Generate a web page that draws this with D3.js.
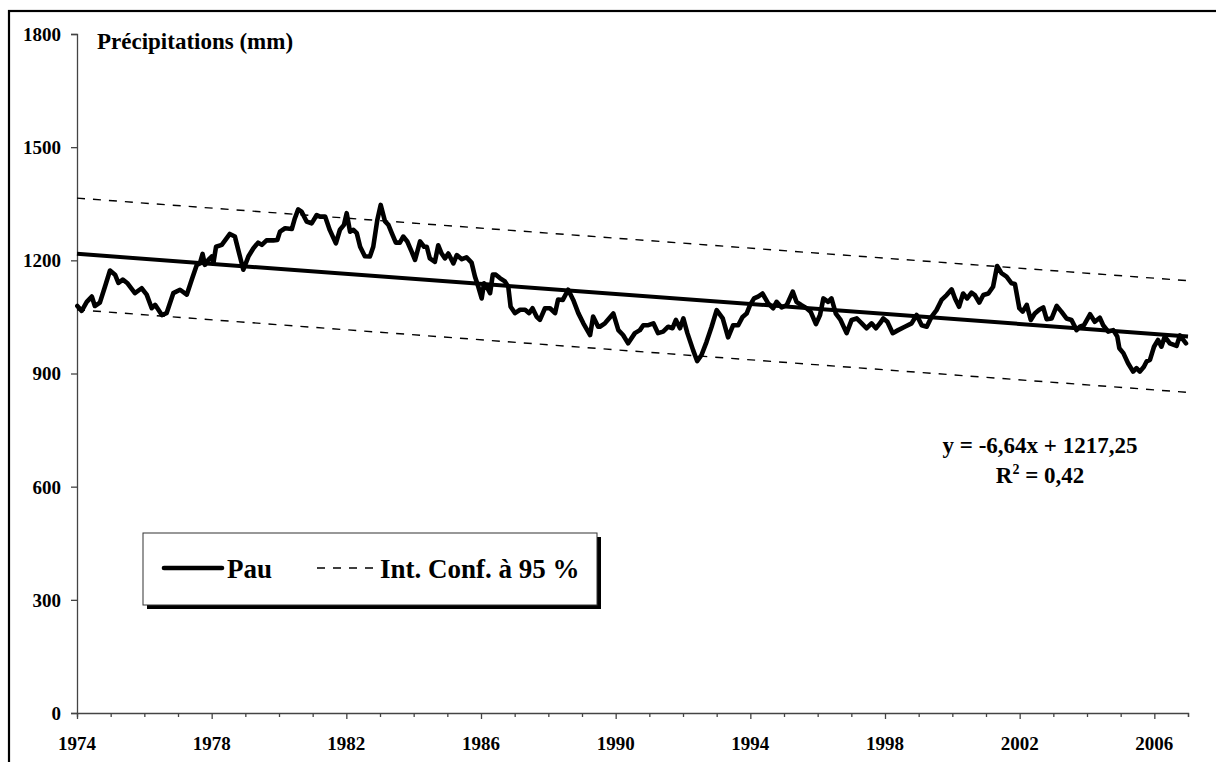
<!DOCTYPE html>
<html>
<head>
<meta charset="utf-8">
<script src="https://cdn.jsdelivr.net/npm/d3@7"></script>
<style>
  html, body { margin: 0; padding: 0; background: #fff; }
  svg { display: block; }
  text { font-family: "Liberation Serif", "Times New Roman", serif; font-weight: bold; fill: #000; }
</style>
</head>
<body>
<svg id="chart" width="1216" height="762"></svg>
<script>
// Pau: 12-month running precipitation totals (mm), sampled along the record
const obsYears = [
  1974.01, 1974.14, 1974.29, 1974.44, 1974.53, 1974.68, 1974.83, 1974.98, 1975.13, 1975.23,
  1975.36, 1975.49, 1975.72, 1975.92, 1976.07, 1976.22, 1976.32, 1976.52, 1976.66, 1976.86,
  1977.06, 1977.26, 1977.41, 1977.56, 1977.65, 1977.73, 1977.80, 1977.90, 1978.00, 1978.05,
  1978.13, 1978.30, 1978.54, 1978.69, 1978.84, 1978.94, 1979.09, 1979.24, 1979.38, 1979.49,
  1979.63, 1979.83, 1979.95, 1980.03, 1980.18, 1980.38, 1980.47, 1980.57, 1980.67, 1980.82,
  1980.97, 1981.12, 1981.22, 1981.37, 1981.51, 1981.69, 1981.81, 1981.93, 1982.01, 1982.11,
  1982.21, 1982.31, 1982.41, 1982.55, 1982.70, 1982.80, 1982.92, 1983.02, 1983.15, 1983.25,
  1983.35, 1983.47, 1983.59, 1983.69, 1983.81, 1983.94, 1984.04, 1984.19, 1984.31, 1984.39,
  1984.48, 1984.63, 1984.73, 1984.83, 1984.93, 1985.03, 1985.18, 1985.28, 1985.43, 1985.57,
  1985.72, 1985.82, 1985.92, 1986.02, 1986.09, 1986.17, 1986.27, 1986.35, 1986.44, 1986.56,
  1986.71, 1986.81, 1986.88, 1987.01, 1987.16, 1987.31, 1987.43, 1987.53, 1987.65, 1987.75,
  1987.90, 1988.05, 1988.20, 1988.29, 1988.43, 1988.59, 1988.74, 1988.89, 1989.04, 1989.24,
  1989.33, 1989.48, 1989.53, 1989.68, 1989.93, 1990.08, 1990.22, 1990.37, 1990.57, 1990.72,
  1990.82, 1990.97, 1991.12, 1991.26, 1991.41, 1991.56, 1991.69, 1991.79, 1991.91, 1992.01,
  1992.13, 1992.30, 1992.42, 1992.55, 1992.70, 1992.85, 1993.00, 1993.18, 1993.34, 1993.49,
  1993.64, 1993.77, 1993.89, 1993.99, 1994.11, 1994.23, 1994.36, 1994.53, 1994.68, 1994.78,
  1994.93, 1995.08, 1995.26, 1995.37, 1995.52, 1995.67, 1995.79, 1995.95, 1996.07, 1996.17,
  1996.31, 1996.41, 1996.54, 1996.68, 1996.86, 1997.01, 1997.16, 1997.31, 1997.45, 1997.60,
  1997.73, 1997.85, 1997.95, 1998.07, 1998.23, 1998.39, 1998.59, 1998.79, 1998.94, 1999.09,
  1999.24, 1999.38, 1999.53, 1999.68, 1999.83, 1999.98, 2000.08, 2000.20, 2000.32, 2000.44,
  2000.57, 2000.67, 2000.80, 2000.92, 2001.07, 2001.21, 2001.33, 2001.46, 2001.61, 2001.76,
  2001.86, 2001.99, 2002.09, 2002.21, 2002.33, 2002.45, 2002.58, 2002.70, 2002.80, 2002.95,
  2003.10, 2003.24, 2003.39, 2003.54, 2003.69, 2003.79, 2003.91, 2004.09, 2004.23, 2004.38,
  2004.48, 2004.63, 2004.78, 2004.90, 2004.96, 2005.08, 2005.22, 2005.37, 2005.47, 2005.57,
  2005.69, 2005.77, 2005.87, 2005.99, 2006.11, 2006.21, 2006.31, 2006.46, 2006.66, 2006.76,
  2006.86, 2006.94
];
const obsPrecip = [
  1079, 1066, 1090, 1104, 1079, 1088, 1130, 1173, 1162, 1140,
  1149, 1140, 1113, 1126, 1109, 1073, 1082, 1055, 1060, 1113,
  1122, 1109, 1149, 1188, 1192, 1217, 1188, 1201, 1210, 1192,
  1236, 1241, 1270, 1263, 1210, 1175, 1210, 1232, 1247, 1241,
  1253, 1253, 1254, 1276, 1285, 1283, 1311, 1335, 1329, 1303,
  1298, 1320, 1316, 1316, 1280, 1245, 1281, 1294, 1325, 1276,
  1281, 1272, 1236, 1211, 1210, 1236, 1307, 1347, 1303, 1294,
  1272, 1247, 1247, 1263, 1250, 1223, 1201, 1250, 1236, 1236,
  1205, 1196, 1240, 1218, 1205, 1218, 1192, 1214, 1203, 1208,
  1194, 1157, 1130, 1099, 1139, 1130, 1113, 1162, 1162, 1153,
  1144, 1130, 1077, 1060, 1069, 1069, 1060, 1073, 1051, 1042,
  1073, 1073, 1060, 1096, 1095, 1122, 1095, 1060, 1033, 1002,
  1051, 1024, 1024, 1033, 1059, 1015, 1002, 980, 1007, 1015,
  1028, 1028, 1033, 1007, 1011, 1024, 1020, 1042, 1020, 1046,
  1007, 962, 933, 949, 984, 1024, 1068, 1046, 996, 1028,
  1028, 1050, 1059, 1081, 1099, 1104, 1112, 1086, 1073, 1090,
  1075, 1081, 1117, 1090, 1081, 1073, 1064, 1031, 1055, 1099,
  1090, 1099, 1059, 1042, 1007, 1042, 1046, 1033, 1020, 1033,
  1020, 1033, 1046, 1037, 1007, 1015, 1024, 1033, 1055, 1028,
  1024, 1050, 1068, 1095, 1108, 1123, 1099, 1077, 1112, 1099,
  1114, 1108, 1088, 1108, 1112, 1130, 1185, 1166, 1157, 1139,
  1137, 1073, 1064, 1082, 1042, 1059, 1069, 1075, 1044, 1046,
  1079, 1064, 1046, 1042, 1015, 1024, 1028, 1057, 1037, 1048,
  1028, 1011, 1015, 998, 967, 954, 927, 905, 914, 905,
  918, 932, 936, 971, 989, 971, 998, 980, 973, 1001,
  989, 980
];

// Linear trend y = a*x + b, x counted in years from 1974
const trendSlope = -6.64;
const trendIntercept = 1217.25;
const trendR2 = 0.42;

// 95 % confidence band end values (mm) at the span limits
const bandYears = [1974, 2007];
const bandUpper = [1365, 1146];
const bandLower = [1069, 850];

const yTickValues = [0, 300, 600, 900, 1200, 1500, 1800];
const xLabelYears = [1974, 1978, 1982, 1986, 1990, 1994, 1998, 2002, 2006];

const seriesName = "Pau";
const bandName = "Int. Conf. à 95 %";
const yTitle = "Précipitations (mm)";

const svg = d3.select("#chart");

// outer frame
svg.append("rect")
  .attr("x", 9).attr("y", 11)
  .attr("width", 1230).attr("height", 780)
  .attr("fill", "#fff").attr("stroke", "#000").attr("stroke-width", 2.2);

const x = d3.scaleLinear().domain([1974, 2007]).range([77, 1188]);
const y = d3.scaleLinear().domain([0, 1800]).range([713, 34]);

// y axis
const yAxis = d3.axisLeft(y).tickValues(yTickValues).tickSize(6).tickPadding(10).tickFormat(d3.format("d"));
const gy = svg.append("g").attr("transform", `translate(${x(1974)},0)`).call(yAxis);
gy.select(".domain").attr("stroke", "#444").attr("stroke-width", 1.3);
gy.selectAll(".tick line").attr("stroke", "#444").attr("stroke-width", 1.3);
gy.selectAll(".tick text").attr("font-size", 19).attr("font-family", null).attr("dy", "0.34em");

// x axis: minor ticks every year, labels every 4 years
const allYears = d3.range(1974, 2008);
const gx = svg.append("g").attr("transform", `translate(0,${y(0)})`)
  .call(d3.axisBottom(x).tickValues(allYears).tickSize(4).tickFormat(""));
gx.select(".domain").attr("stroke", "#444").attr("stroke-width", 1.3);
gx.selectAll(".tick line").attr("stroke", "#444").attr("stroke-width", 1.3);
gx.selectAll(".tick").filter(d => xLabelYears.includes(d)).select("line").attr("y2", 6);

svg.append("g").selectAll("text").data(xLabelYears).join("text")
  .attr("x", d => x(d)).attr("y", 750)
  .attr("text-anchor", "middle").attr("font-size", 19)
  .text(d => d);

// axis title
svg.append("text").attr("x", 97).attr("y", 49).attr("font-size", 23).text(yTitle);

// confidence band
const bandLine = d3.line().x(d => x(d[0])).y(d => y(d[1]));
[bandUpper, bandLower].forEach(vals => {
  svg.append("path")
    .datum(bandYears.map((yr, i) => [yr, vals[i]]))
    .attr("d", bandLine)
    .attr("fill", "none").attr("stroke", "#000").attr("stroke-width", 1.4)
    .attr("stroke-dasharray", "8,8");
});

// trend line
const trendPts = bandYears.map(yr => [yr, trendIntercept + trendSlope * (yr - 1974)]);
svg.append("path").datum(trendPts).attr("d", bandLine)
  .attr("fill", "none").attr("stroke", "#000").attr("stroke-width", 4);

// observed series
const obs = obsYears.map((yr, i) => [yr, obsPrecip[i]]);
svg.append("path").datum(obs)
  .attr("d", d3.line().x(d => x(d[0])).y(d => y(d[1])))
  .attr("fill", "none").attr("stroke", "#000").attr("stroke-width", 4.6)
  .attr("stroke-linejoin", "round").attr("stroke-linecap", "round");

// equation
const eq = svg.append("text").attr("text-anchor", "middle").attr("font-size", 23);
eq.append("tspan").attr("x", 1040).attr("y", 453)
  .text(`y = ${trendSlope.toFixed(2).replace(".", ",")}x + ${trendIntercept.toFixed(2).replace(".", ",")}`);
const r2 = svg.append("text").attr("text-anchor", "middle").attr("font-size", 23)
  .attr("x", 1040).attr("y", 483);
r2.append("tspan").text("R");
r2.append("tspan").attr("font-size", 14).attr("dy", -9).text("2");
r2.append("tspan").attr("dy", 9).text(` = ${trendR2.toFixed(2).replace(".", ",")}`);

// legend
const lg = svg.append("g");
lg.append("rect").attr("x", 147).attr("y", 537).attr("width", 454).attr("height", 72).attr("fill", "#000");
lg.append("rect").attr("x", 143).attr("y", 533).attr("width", 454).attr("height", 72)
  .attr("fill", "#fff").attr("stroke", "#333").attr("stroke-width", 1);
lg.append("line").attr("x1", 164).attr("x2", 222).attr("y1", 568).attr("y2", 568)
  .attr("stroke", "#000").attr("stroke-width", 4.6).attr("stroke-linecap", "round");
lg.append("text").attr("x", 227).attr("y", 578).attr("font-size", 27).text(seriesName);
lg.append("line").attr("x1", 317).attr("x2", 376).attr("y1", 568).attr("y2", 568)
  .attr("stroke", "#000").attr("stroke-width", 1.4).attr("stroke-dasharray", "8,8");
lg.append("text").attr("x", 380).attr("y", 578).attr("font-size", 27).text(bandName);
</script>
</body>
</html>
